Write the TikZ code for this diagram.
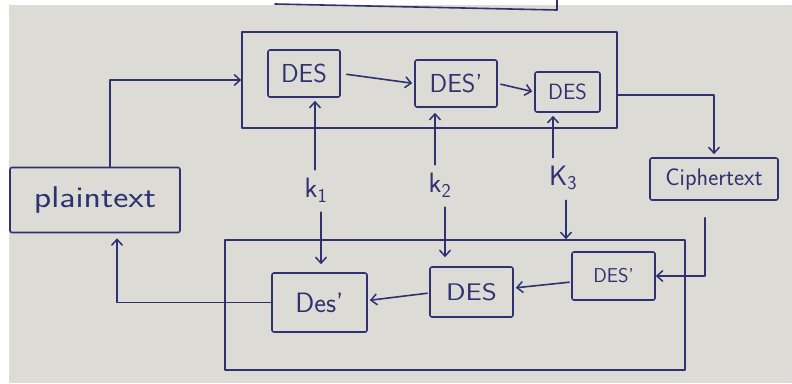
\documentclass[tikz,border=0pt]{standalone}
\usetikzlibrary{arrows.meta}
\definecolor{ink}{HTML}{2E3270}
\definecolor{paper}{HTML}{DCDBD6}
\begin{document}
\begin{tikzpicture}[x=1pt,y=-1pt,
  inkline/.style={draw=ink, line width=1.6pt, line cap=round, line join=round},
  box/.style={inkline, rounded corners=2pt, inner sep=0pt, text=ink, font=\sffamily},
  frame/.style={inkline, inner sep=0pt},
  flow/.style={inkline, -{Straight Barb[length=6pt,width=11pt,line width=1.5pt]}},
  key/.style={text=ink, inner sep=0pt, font=\sffamily\fontsize{28}{30}\selectfont}]
% paper sheet
\fill[white] (0,0) rectangle (792,383);
\fill[paper] (9,5) rectangle (792,383);
\useasboundingbox (0,0) rectangle (792,383);

% edge of an earlier sketch at the top of the sheet
\draw[inkline] (275,4) -- (557,10) -- (557,0);

% encryption stage
\node[frame, minimum width=375pt, minimum height=96pt] (enc) at (429.5,80) {};
\node[box, minimum width=72pt, minimum height=47pt, font=\sffamily\fontsize{26}{28}\selectfont] (d1) at (304,73.5) {DES};
\node[box, minimum width=82pt, minimum height=47pt, font=\sffamily\fontsize{26}{28}\selectfont] (d2) at (456,83.5) {DES'};
\node[box, minimum width=65pt, minimum height=40pt, font=\sffamily\fontsize{22}{24}\selectfont] (d3) at (567.5,92) {DES};

% decryption stage
\node[frame, minimum width=460pt, minimum height=130pt] (dec) at (455,305) {};
\node[box, minimum width=95pt, minimum height=59pt, font=\sffamily\fontsize{28}{30}\selectfont] (e1) at (319.5,302.5) {Des'};
\node[box, minimum width=83pt, minimum height=50pt, font=\sffamily\fontsize{24}{26}\selectfont] (e2) at (471.5,292) {\scalebox{1.2}[1]{DES}};
\node[box, minimum width=83pt, minimum height=48pt, font=\sffamily\fontsize{20}{22}\selectfont] (e3) at (613.5,276) {DES'};

% plaintext and ciphertext
\node[box, minimum width=170pt, minimum height=65pt, font=\sffamily\fontsize{30}{32}\selectfont] (pt) at (95,200) {\scalebox{1.2}[1]{plaintext}};
\node[box, minimum width=128pt, minimum height=42pt, font=\sffamily\fontsize{24}{26}\selectfont] (ct) at (714,179) {Ciphertext};

% keys
\node[key] (k1) at (316,190) {k\textsubscript{1}};
\node[key] (k2) at (440,185) {k\textsubscript{2}};
\node[key] (k3) at (563,178) {K\textsubscript{3}};

% data flow
\draw[flow] ([xshift=15pt]pt.north) |- (enc.west);
\draw[flow, shorten >=2pt, shorten <=6pt] (d1.east) -- (d2.west);
\draw[flow, shorten >=2pt, shorten <=3pt] (d2.east) -- (d3.west);
\draw[flow, shorten >=3pt] ([yshift=-15pt]enc.east) -| (ct.north);
\draw[flow, shorten <=17pt] ([xshift=-9pt]ct.south) |- (e3.east);
\draw[flow, shorten >=2pt, shorten <=2pt] ([yshift=-6pt]e3.west) -- ([yshift=4pt]e2.east);
\draw[flow, shorten >=2pt, shorten <=2pt] ([yshift=-1pt]e2.west) -- ([yshift=2pt]e1.east);
\draw[flow, shorten >=5pt] (e1.west) -| ([xshift=22pt]pt.south);

% key schedule
\draw[flow, shorten <=8pt, shorten >=3pt] ([xshift=-1pt]k1.north) -- ([xshift=-1pt]k1.north |- d1.south);
\draw[flow, shorten <=8pt, shorten >=5pt] ([xshift=-5pt]k2.north) -- ([xshift=-5pt]k2.north |- d2.south);
\draw[flow, shorten <=8pt, shorten >=3pt] ([xshift=-10pt]k3.north) -- ([xshift=-10pt]k3.north |- d3.south);
\draw[flow, shorten <=10pt, shorten >=8pt] ([xshift=5pt]k1.south) -- ([xshift=5pt]k1.south |- e1.north);
\draw[flow, shorten <=10pt, shorten >=9pt] ([xshift=5pt]k2.south) -- ([xshift=5pt]k2.south |- e2.north);
\draw[flow, shorten <=10pt] ([xshift=3pt]k3.south) -- ([xshift=3pt]k3.south |- dec.north);
\end{tikzpicture}
\end{document}
